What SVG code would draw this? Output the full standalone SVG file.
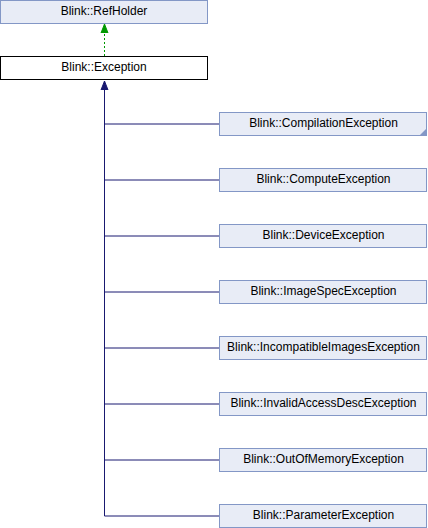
<svg xmlns="http://www.w3.org/2000/svg" width="428" height="528" viewBox="0 0 428 528">
<defs>
<style>
.n rect{fill:#e8ecf6;stroke:#8397c6;stroke-width:1}
.n.cur rect{fill:#ffffff;stroke:#000000}
text{font-family:"Liberation Sans",Arial,sans-serif;font-size:12px;fill:#000;text-anchor:middle}
.e{fill:none;stroke:#191970;stroke-width:1}
.g{fill:none;stroke:#009900;stroke-width:1;stroke-dasharray:2,2}
</style>
<marker id="ab" markerWidth="10" markerHeight="10" refX="9" refY="5" orient="auto" markerUnits="userSpaceOnUse"><path d="M0,1.5 L9,5 L0,8.5 Z" fill="#191970" stroke="#191970" stroke-width="1"/></marker>
<marker id="ag" markerWidth="10" markerHeight="10" refX="9" refY="5" orient="auto" markerUnits="userSpaceOnUse"><path d="M0,1.5 L9,5 L0,8.5 Z" fill="#009900" stroke="#009900" stroke-width="1"/></marker>
</defs>
<g id="connectors">
<path class="g" d="M104.5,56 V24" marker-end="url(#ag)"/>
<path class="e" d="M219,516 H104.5 V81" marker-end="url(#ab)"/>
<path class="e" d="M219,124 H104.5"/>
<path class="e" d="M219,180 H104.5"/>
<path class="e" d="M219,236 H104.5"/>
<path class="e" d="M219,292 H104.5"/>
<path class="e" d="M219,348 H104.5"/>
<path class="e" d="M219,404 H104.5"/>
<path class="e" d="M219,460 H104.5"/>
</g>
<g id="RefHolder" class="n"><rect x="0.5" y="0.5" width="207" height="23"/><text x="104" y="15">Blink::RefHolder</text></g>
<g id="Exception" class="n cur"><rect x="0.5" y="56.5" width="207" height="23"/><text x="104" y="71">Blink::Exception</text></g>
<g id="CompilationException" class="n"><rect x="219.5" y="112.5" width="207" height="23"/><text x="323.5" y="127">Blink::CompilationException</text><path d="M427,128 L427,136 L419,136 Z" fill="#8397c6"/></g>
<g id="ComputeException" class="n"><rect x="219.5" y="168.5" width="207" height="23"/><text x="323.5" y="183">Blink::ComputeException</text></g>
<g id="DeviceException" class="n"><rect x="219.5" y="224.5" width="207" height="23"/><text x="323.5" y="239">Blink::DeviceException</text></g>
<g id="ImageSpecException" class="n"><rect x="219.5" y="280.5" width="207" height="23"/><text x="323.5" y="295">Blink::ImageSpecException</text></g>
<g id="IncompatibleImagesException" class="n"><rect x="219.5" y="336.5" width="207" height="23"/><text x="323.5" y="351">Blink::IncompatibleImagesException</text></g>
<g id="InvalidAccessDescException" class="n"><rect x="219.5" y="392.5" width="207" height="23"/><text x="323.5" y="407">Blink::InvalidAccessDescException</text></g>
<g id="OutOfMemoryException" class="n"><rect x="219.5" y="448.5" width="207" height="23"/><text x="323.5" y="463">Blink::OutOfMemoryException</text></g>
<g id="ParameterException" class="n"><rect x="219.5" y="504.5" width="207" height="23"/><text x="323.5" y="519">Blink::ParameterException</text></g>
</svg>
